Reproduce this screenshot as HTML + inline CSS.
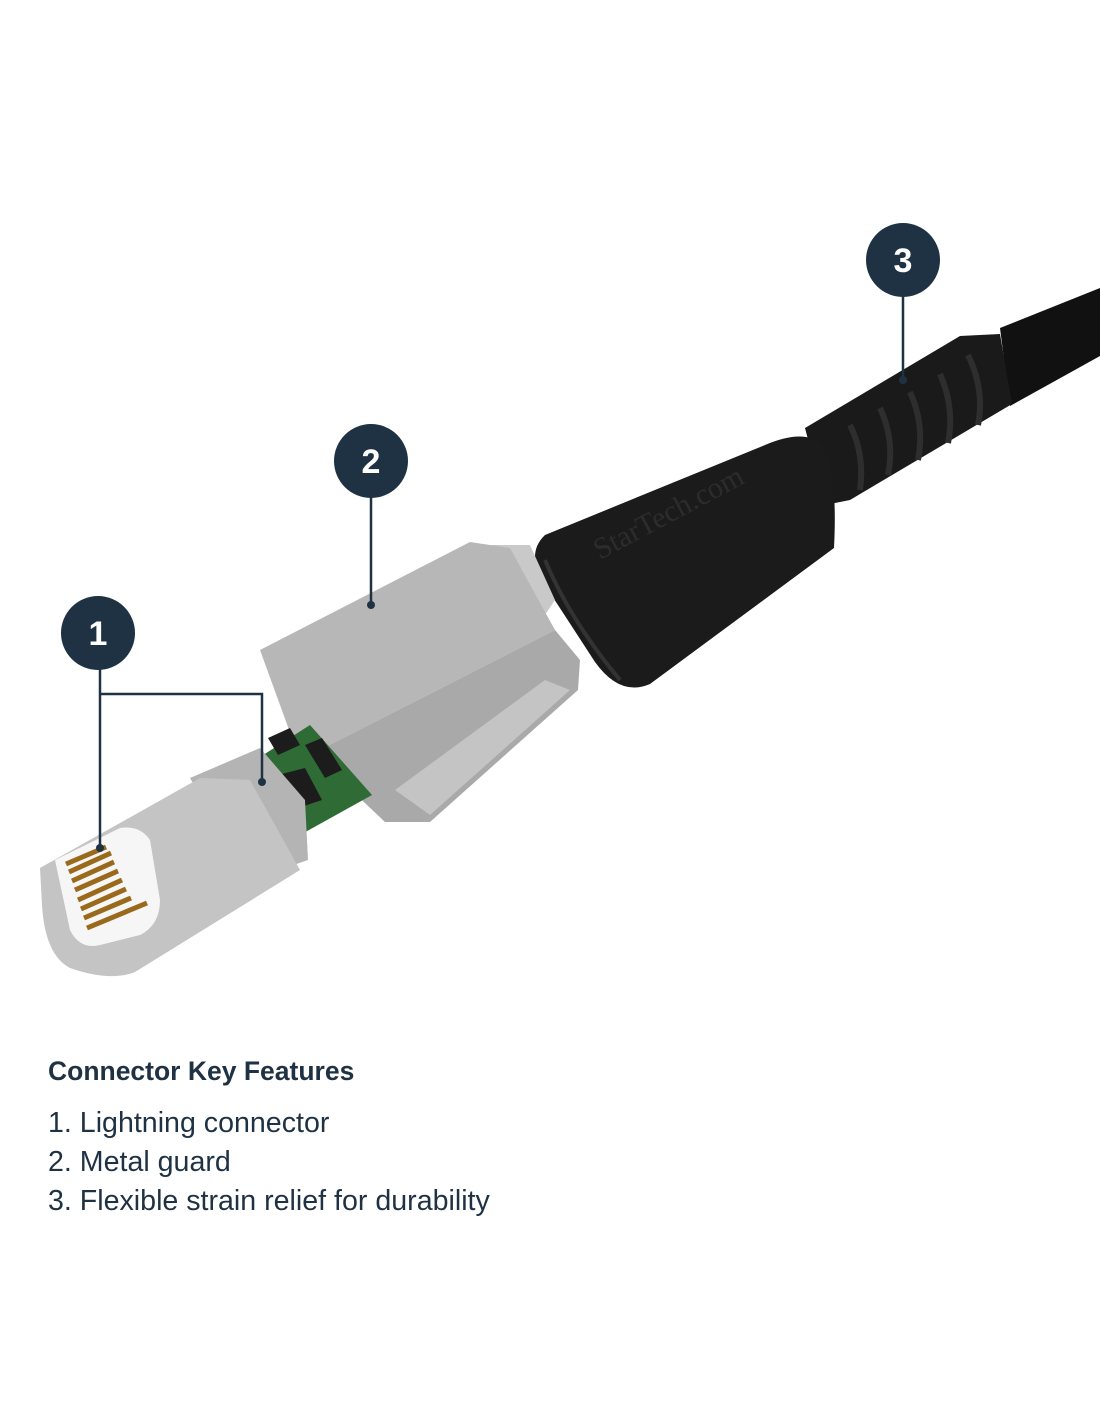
<!DOCTYPE html>
<html><head><style>
body{margin:0;background:#fff;width:1100px;height:1422px;overflow:hidden;font-family:"Liberation Sans",sans-serif;}
.t{position:absolute;left:48px;color:#1f3244;font-size:28.6px;}
</style></head><body>
<svg width="1100" height="1422" style="position:absolute;left:0;top:0">
<polygon points="1000,328 1100,288 1100,356 1010,406" fill="#111"/>
<polygon points="805,428 960,336 1000,334 1012,404 850,500 825,505" fill="#1a1a1a"/>
<g stroke="#2e2e2e" stroke-width="6" fill="none">
<path d="M850,425 Q865,455 860,490"/><path d="M880,408 Q895,440 888,475"/><path d="M910,392 Q925,425 918,460"/><path d="M940,374 Q955,408 948,443"/><path d="M968,355 Q985,390 978,425"/>
</g>
<path d="M545,535 L765,445 Q805,428 822,445 Q838,470 834,548 L650,684 Q620,697 595,662 L543,582 Q526,553 545,535 Z" fill="#1b1b1b"/>
<path d="M545,560 Q570,620 620,680" stroke="#333" stroke-width="4" fill="none"/>
<text x="600" y="560" transform="rotate(-28 600 560)" font-size="30" fill="#2c2c2c" font-family="Liberation Serif">StarTech.com</text>
<polygon points="490,545 530,545 555,600 545,615" fill="#c9c9c9"/>
<polygon points="260,650 470,542 510,548 545,612 555,630 300,760" fill="#b7b7b7"/>
<polygon points="300,760 555,630 580,660 578,690 430,822 385,822 330,770" fill="#a9a9a9"/>
<polygon points="395,790 545,680 570,690 430,815" fill="#c4c4c4"/>
<polygon points="232,775 310,725 372,795 300,835" fill="#2f6b35"/>
<polygon points="268,738 290,728 300,745 278,755" fill="#1c1c1c"/>
<polygon points="305,745 322,738 342,770 325,778" fill="#1c1c1c"/>
<polygon points="278,775 305,768 322,800 298,808" fill="#1c1c1c"/>
<polygon points="190,778 260,748 305,800 308,860 250,880" fill="#b4b4b4"/>
<path d="M40,868 L200,778 L250,780 L300,870 L135,972 Q110,982 70,968 Q45,955 42,905 Z" fill="#c4c4c4"/>
<path d="M55,860 L120,828 Q140,825 150,840 L160,900 Q160,925 140,935 L100,945 Q80,950 70,930 Z" fill="#f6f6f6"/>
<g stroke="#9a6a1c" stroke-width="5">
<line x1="66" y1="864" x2="106" y2="847"/><line x1="69" y1="872" x2="111" y2="853"/><line x1="72" y1="881" x2="114" y2="862"/><line x1="75" y1="890" x2="118" y2="871"/><line x1="78" y1="900" x2="122" y2="880"/><line x1="81" y1="909" x2="126" y2="889"/><line x1="84" y1="918" x2="131" y2="898"/><line x1="87" y1="928" x2="147" y2="903"/>
</g>
<g stroke="#1f3244" stroke-width="2.5" fill="none">
<path d="M100,660 V848 M100,694 H262 V782"/>
<path d="M371,490 V605"/>
<path d="M903,290 V380"/>
</g>
<g fill="#1f3244">
<circle cx="100" cy="848" r="4"/><circle cx="262" cy="782" r="4"/><circle cx="371" cy="605" r="4"/><circle cx="903" cy="380" r="4"/>
<circle cx="98" cy="633" r="37"/><circle cx="371" cy="461" r="37"/><circle cx="903" cy="260" r="37"/>
</g>
<g fill="#fff" font-size="34" font-weight="bold" text-anchor="middle" font-family="Liberation Sans">
<text x="98" y="645">1</text><text x="371" y="473">2</text><text x="903" y="272">3</text>
</g>
</svg>
<div class="t" style="top:1056px;font-weight:bold;font-size:26.5px;">Connector Key Features</div>
<div class="t" style="top:1107px;">1. Lightning connector</div>
<div class="t" style="top:1146px;">2. Metal guard</div>
<div class="t" style="top:1185px;">3. Flexible strain relief for durability</div>
</body></html>
